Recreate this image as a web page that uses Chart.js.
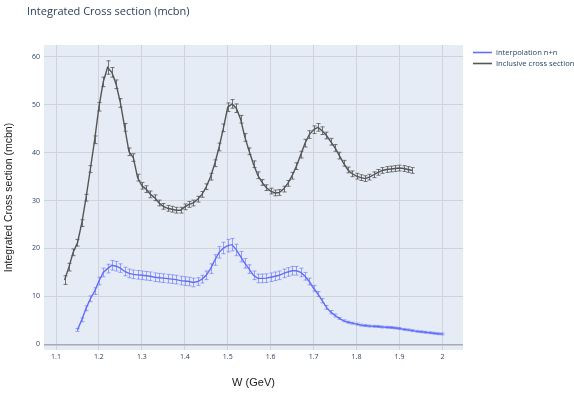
<!DOCTYPE html>
<html>
<head>
<meta charset="utf-8">
<script src="https://cdn.jsdelivr.net/npm/chart.js@4/dist/chart.umd.min.js"></script>
<style>
  html, body { margin: 0; padding: 0; background: #ffffff; }
  #wrap { width: 574px; height: 394px; }
</style>
</head>
<body>
<div id="wrap"><canvas id="c" width="574" height="394"></canvas></div>
<script>
// W (GeV) values and integrated cross sections (mcbn) with their uncertainties
const wInterp = [1.15,1.16,1.17,1.18,1.19,1.20,1.21,1.22,1.23,1.24,1.25,1.26,1.27,1.28,1.29,1.30,1.31,1.32,1.33,1.34,1.35,1.36,1.37,1.38,1.39,1.40,1.41,1.42,1.43,1.44,1.45,1.46,1.47,1.48,1.49,1.50,1.51,1.52,1.53,1.54,1.55,1.56,1.57,1.58,1.59,1.60,1.61,1.62,1.63,1.64,1.65,1.66,1.67,1.68,1.69,1.70,1.71,1.72,1.73,1.74,1.75,1.76,1.77,1.78,1.79,1.80,1.81,1.82,1.83,1.84,1.85,1.86,1.87,1.88,1.89,1.90,1.91,1.92,1.93,1.94,1.95,1.96,1.97,1.98,1.99,2.00];
const sigmaInterp = [3.0,5.1,7.5,9.5,11.1,13.2,15.0,15.8,16.5,16.3,15.9,15.2,14.8,14.6,14.5,14.4,14.3,14.2,14.0,13.9,13.8,13.7,13.6,13.5,13.3,13.2,13.1,12.9,13.1,13.6,14.4,15.8,17.6,19.2,20.1,20.6,20.8,19.7,18.3,16.9,15.7,14.4,13.75,13.75,13.8,14.0,14.2,14.4,14.8,15.1,15.35,15.35,15.0,14.2,13.1,11.7,10.5,9.1,7.7,6.7,6.0,5.4,4.9,4.6,4.4,4.2,4.0,3.9,3.8,3.75,3.7,3.6,3.55,3.5,3.4,3.3,3.1,3.0,2.85,2.7,2.6,2.5,2.4,2.3,2.2,2.15];
const errInterp = [0.3,0.4,0.5,0.6,0.7,0.8,0.9,0.9,1.0,1.0,0.9,0.9,0.9,0.9,0.9,0.9,0.9,0.9,0.9,0.9,0.9,0.9,0.9,0.9,0.9,0.9,0.9,0.9,0.8,0.8,0.9,1.0,1.1,1.2,1.2,1.3,1.3,1.2,1.1,1.0,0.9,0.9,0.9,0.9,0.9,0.9,0.9,0.9,0.9,0.9,0.9,0.9,0.9,0.8,0.7,0.6,0.5,0.45,0.4,0.35,0.3,0.2,0.2,0.2,0.2,0.2,0.2,0.2,0.2,0.2,0.2,0.2,0.2,0.2,0.2,0.2,0.2,0.2,0.2,0.2,0.2,0.2,0.2,0.2,0.2,0.2];

const wIncl = [1.12,1.13,1.14,1.15,1.16,1.17,1.18,1.19,1.20,1.21,1.22,1.23,1.24,1.25,1.26,1.27,1.28,1.29,1.30,1.31,1.32,1.33,1.34,1.35,1.36,1.37,1.38,1.39,1.40,1.41,1.42,1.43,1.44,1.45,1.46,1.47,1.48,1.49,1.50,1.51,1.52,1.53,1.54,1.55,1.56,1.57,1.58,1.59,1.60,1.61,1.62,1.63,1.64,1.65,1.66,1.67,1.68,1.69,1.70,1.71,1.72,1.73,1.74,1.75,1.76,1.77,1.78,1.79,1.80,1.81,1.82,1.83,1.84,1.85,1.86,1.87,1.88,1.89,1.90,1.91,1.92,1.93];
const sigmaIncl = [13.4,16.1,19.2,21.2,25.3,30.6,36.6,42.7,49.6,54.8,57.8,56.8,54.3,50.4,45.3,40.2,39.0,34.8,33.1,32.4,31.3,30.6,29.5,28.8,28.4,28.2,28.0,28.0,28.7,29.2,29.5,30.3,31.3,32.9,35.0,37.8,41.2,45.2,49.5,50.2,49.3,47.0,43.2,40.3,37.6,35.3,33.8,32.7,32.0,31.6,31.7,32.4,33.6,35.2,37.2,39.6,42.0,43.8,44.8,45.3,44.6,43.6,42.3,41.0,39.4,37.8,36.4,35.6,35.1,34.8,34.6,34.9,35.4,35.9,36.3,36.5,36.6,36.7,36.8,36.7,36.5,36.3];
const errIncl = [0.9,0.8,0.7,0.7,0.7,0.7,0.7,0.8,0.9,1.0,1.4,1.0,0.9,0.9,0.8,0.8,0.8,0.7,0.7,0.7,0.7,0.6,0.6,0.6,0.6,0.6,0.6,0.6,0.6,0.6,0.6,0.6,0.6,0.6,0.7,0.7,0.8,0.8,0.9,0.9,0.9,0.8,0.8,0.7,0.7,0.7,0.6,0.6,0.6,0.6,0.6,0.6,0.6,0.7,0.7,0.7,0.8,0.8,0.8,0.8,0.8,0.7,0.7,0.7,0.7,0.6,0.6,0.6,0.6,0.6,0.6,0.6,0.6,0.6,0.6,0.6,0.6,0.6,0.6,0.6,0.6,0.6];

const xTicks = [1.1,1.2,1.3,1.4,1.5,1.6,1.7,1.8,1.9,2.0];
const yTicks = [0,10,20,30,40,50,60];

const TICK_FONT = { family: '"Open Sans", sans-serif', size: 7 };
const TICK_COLOR = '#2a3f5f';
const GRID_COLOR = '#cfd4dc';
const ZERO_COLOR = '#a7abb2';

function points(xs, ys) { return xs.map((x, i) => ({ x: x, y: ys[i] })); }

// paints the white page and the tinted plotting area
const plotBackground = {
  id: 'plotBackground',
  beforeDraw(chart) {
    const { ctx, chartArea: a } = chart;
    ctx.save();
    ctx.fillStyle = '#ffffff';
    ctx.fillRect(0, 0, chart.width, chart.height);
    ctx.fillStyle = '#e5ecf6';
    ctx.fillRect(a.left, a.top, a.right - a.left, a.bottom - a.top);
    ctx.restore();
  }
};

// vertical error bars with small caps, mapped through the chart scales
const errorBars = {
  id: 'errorBars',
  afterDatasetsDraw(chart) {
    const { ctx, chartArea: a } = chart;
    const xs = chart.scales.x, ys = chart.scales.y;
    ctx.save();
    ctx.beginPath();
    ctx.rect(a.left, a.top, a.right - a.left, a.bottom - a.top);
    ctx.clip();
    chart.data.datasets.forEach(ds => {
      const errs = ds.errors || [];
      ctx.strokeStyle = ds.errorColor;
      ctx.lineWidth = 1;
      ds.data.forEach((p, i) => {
        const e = errs[i];
        if (!e) return;
        const px = Math.round(xs.getPixelForValue(p.x)) + 0.5;
        const y1 = ys.getPixelForValue(p.y + e);
        const y2 = ys.getPixelForValue(p.y - e);
        const cap = 2;
        ctx.beginPath();
        ctx.moveTo(px, y1); ctx.lineTo(px, y2);
        ctx.moveTo(px - cap, y1); ctx.lineTo(px + cap, y1);
        ctx.moveTo(px - cap, y2); ctx.lineTo(px + cap, y2);
        ctx.stroke();
      });
    });
    ctx.restore();
  }
};

// heading at the top left and the series key on the right
const headingAndKey = {
  id: 'headingAndKey',
  afterDraw(chart) {
    const { ctx, chartArea: a } = chart;
    ctx.save();
    ctx.fillStyle = '#2a3f5f';
    ctx.font = '11px "Open Sans", sans-serif';
    ctx.textBaseline = 'middle';
    ctx.textAlign = 'left';
    ctx.fillText('Integrated Cross section (mcbn)', 27, 12);

    const x0 = a.right + 10;
    chart.data.datasets.forEach((ds, i) => {
      const y = 52.5 + i * 11;
      ctx.strokeStyle = ds.keyColor;
      ctx.lineWidth = 1.6;
      ctx.beginPath();
      ctx.moveTo(x0, y); ctx.lineTo(x0 + 19, y);
      ctx.stroke();
      ctx.fillStyle = '#2a3f5f';
      ctx.font = '7.6px "Open Sans", sans-serif';
      ctx.fillText(ds.label, x0 + 23, y);
    });
    ctx.restore();
  }
};

new Chart(document.getElementById('c'), {
  type: 'line',
  data: {
    datasets: [
      {
        label: 'interpolation n+n',
        data: points(wInterp, sigmaInterp),
        errors: errInterp,
        borderColor: '#636efa',
        errorColor: 'rgba(99,110,250,0.6)',
        keyColor: '#636efa',
        borderWidth: 1.4,
        pointRadius: 0,
        tension: 0
      },
      {
        label: 'Inclusive cross section',
        data: points(wIncl, sigmaIncl),
        errors: errIncl,
        borderColor: '#555555',
        errorColor: 'rgba(85,85,85,0.8)',
        keyColor: '#555555',
        borderWidth: 1.4,
        pointRadius: 0,
        tension: 0
      }
    ]
  },
  options: {
    responsive: false,
    animation: false,
    devicePixelRatio: 1,
    layout: { padding: { top: 45, right: 111, bottom: 0, left: 0 } },
    plugins: { legend: { display: false }, title: { display: false }, tooltip: { enabled: false } },
    scales: {
      x: {
        type: 'linear',
        min: 1.072,
        max: 2.048,
        afterFit(s) { s.height = 44; },
        afterBuildTicks(s) { s.ticks = xTicks.map(v => ({ value: v })); },
        ticks: {
          font: TICK_FONT, color: TICK_COLOR, padding: 3, maxRotation: 0, autoSkip: false,
          callback: v => String(+Number(v).toFixed(1))
        },
        grid: { color: GRID_COLOR, drawTicks: false },
        border: { display: false },
        title: {
          display: true, text: 'W (GeV)', color: '#222222',
          font: { family: '"Liberation Sans", Arial, sans-serif', size: 11 },
          padding: { top: 0, bottom: 4 }
        }
      },
      y: {
        type: 'linear',
        min: -1.2,
        max: 62.5,
        afterFit(s) { s.width = 44; },
        afterBuildTicks(s) { s.ticks = yTicks.map(v => ({ value: v })); },
        ticks: { font: TICK_FONT, color: TICK_COLOR, padding: 4 },
        grid: {
          color: c => (c.tick && c.tick.value === 0 ? ZERO_COLOR : GRID_COLOR),
          lineWidth: c => (c.tick && c.tick.value === 0 ? 1.5 : 1),
          drawTicks: false
        },
        border: { display: false },
        title: {
          display: true, text: 'Integrated Cross section (mcbn)', color: '#222222',
          font: { family: '"Liberation Sans", Arial, sans-serif', size: 10.5 },
          padding: { top: 3, bottom: 0 }
        }
      }
    }
  },
  plugins: [plotBackground, errorBars, headingAndKey]
});
</script>
</body>
</html>
